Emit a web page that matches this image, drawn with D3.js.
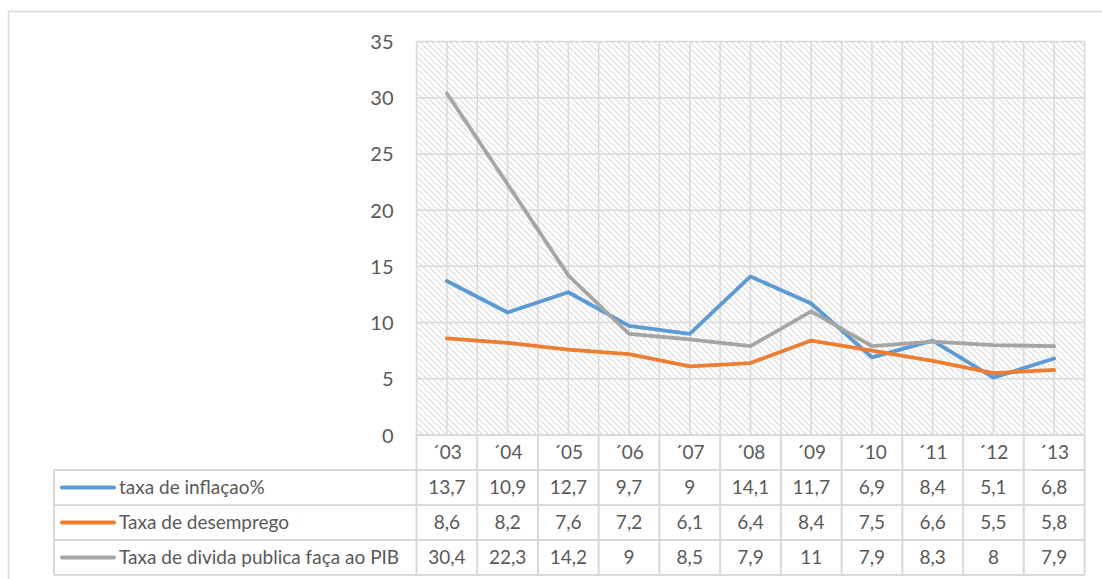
<!DOCTYPE html>
<html>
<head>
<meta charset="utf-8">
<script src="https://cdn.jsdelivr.net/npm/d3@7/dist/d3.min.js"></script>
<style>
  html, body { margin: 0; padding: 0; background: #fff; }
  svg { display: block; }
  text { font-family: Lato, "Open Sans", sans-serif; fill: #595959; }
</style>
</head>
<body>
<svg id="chart" width="1102" height="579"></svg>
<script>
// Years shown along the category axis
const years = ["´03", "´04", "´05", "´06", "´07", "´08", "´09", "´10", "´11", "´12", "´13"];

// Series values
const inflacao   = [13.7, 10.9, 12.7, 9.7, 9, 14.1, 11.7, 6.9, 8.4, 5.1, 6.8];
const desemprego = [8.6, 8.2, 7.6, 7.2, 6.1, 6.4, 8.4, 7.5, 6.6, 5.5, 5.8];
const divida     = [30.4, 22.3, 14.2, 9, 8.5, 7.9, 11, 7.9, 8.3, 8, 7.9];

const seriesNames = ["taxa de inflaçao%", "Taxa de desemprego", "Taxa de divida publica faça ao PIB"];
const seriesColors = ["#5B9BD5", "#ED7D31", "#A5A5A5"];

// Value axis ticks
const yTicks = [0, 5, 10, 15, 20, 25, 30, 35];

const series = [inflacao, desemprego, divida].map((values, i) => ({
  name: seriesNames[i], color: seriesColors[i], values
}));

const svg = d3.select("#chart");

// Layout
const plotL = 416.5, plotR = 1084.5, plotT = 41.5, plotB = 435;
const legendL = 54;
const rowH = 35;
const gridColor = "#d9d9d9";

const x = d3.scaleBand().domain(years).range([plotL, plotR]).padding(0);
const y = d3.scaleLinear().domain([0, 35]).range([plotB, plotT]);
const xc = d => x(d) + x.bandwidth() / 2;

// Chart area border
svg.append("rect")
  .attr("x", 8.5).attr("y", 11.5)
  .attr("width", 1110).attr("height", 600)
  .attr("fill", "#fff").attr("stroke", gridColor).attr("stroke-width", 1.5);

// Diagonal hatch fill of the plot area
const defs = svg.append("defs");
const pat = defs.append("pattern")
  .attr("id", "hatch").attr("patternUnits", "userSpaceOnUse")
  .attr("width", 6).attr("height", 6);
pat.append("path")
  .attr("d", "M-1,-1 L7,7 M-1,5 L1,7 M5,-1 L7,1")
  .attr("stroke", "#dcdcdc").attr("stroke-width", 1.2).attr("fill", "none");

svg.append("rect")
  .attr("x", plotL).attr("y", plotT)
  .attr("width", plotR - plotL).attr("height", plotB - plotT)
  .attr("fill", "url(#hatch)");

// Horizontal gridlines
svg.append("g").selectAll("line").data(yTicks).join("line")
  .attr("x1", plotL).attr("x2", plotR)
  .attr("y1", d => y(d)).attr("y2", d => y(d))
  .attr("stroke", gridColor).attr("stroke-width", 1.5);

// Vertical gridlines at category boundaries and centres
const vLines = [];
years.forEach(d => { vLines.push(x(d)); vLines.push(xc(d)); });
vLines.push(plotR);
svg.append("g").selectAll("line").data(vLines).join("line")
  .attr("x1", d => d).attr("x2", d => d)
  .attr("y1", plotT).attr("y2", plotB)
  .attr("stroke", gridColor).attr("stroke-width", 1.5);

// Value axis labels
const yAxis = d3.axisLeft(y).tickValues(yTicks).tickSize(0).tickPadding(0);
const gy = svg.append("g").attr("transform", `translate(${plotL - 23},0)`).call(yAxis);
gy.select(".domain").remove();
gy.selectAll("text")
  .style("font-family", "Lato, 'Open Sans', sans-serif")
  .style("font-size", "20px").attr("fill", "#595959").attr("dy", "0.35em");

// Lines
const line = d3.line().x((d, i) => xc(years[i])).y(d => y(d));
svg.append("g").selectAll("path").data(series).join("path")
  .attr("d", s => line(s.values))
  .attr("fill", "none")
  .attr("stroke", s => s.color)
  .attr("stroke-width", 3.8)
  .attr("stroke-linejoin", "round")
  .attr("stroke-linecap", "round");

// Data table
const table = svg.append("g");
const fmt = v => String(v).replace(".", ",");
const fs = "19px";

// Header row: category labels
table.selectAll("text.cat").data(years).join("text")
  .attr("class", "cat")
  .attr("x", d => xc(d)).attr("y", plotB + rowH / 2)
  .attr("dy", "0.35em").attr("text-anchor", "middle")
  .style("font-size", fs)
  .text(d => d);

// Series rows
series.forEach((s, r) => {
  const top = plotB + rowH * (r + 1);
  const cy = top + rowH / 2;
  table.append("line")
    .attr("x1", legendL + 8).attr("x2", legendL + 60)
    .attr("y1", cy).attr("y2", cy)
    .attr("stroke", s.color).attr("stroke-width", 4).attr("stroke-linecap", "round");
  table.append("text")
    .attr("x", legendL + 65).attr("y", cy).attr("dy", "0.35em")
    .style("font-size", fs)
    .text(s.name);
  table.selectAll(null).data(s.values).join("text")
    .attr("x", (d, i) => xc(years[i])).attr("y", cy)
    .attr("dy", "0.35em").attr("text-anchor", "middle")
    .style("font-size", fs)
    .text(d => fmt(d));
});

// Table grid lines
const tableBottom = plotB + rowH * 4;
const hRows = [0, 1, 2, 3, 4].map(k => plotB + rowH * k);
table.selectAll("line.h").data(hRows).join("line")
  .attr("class", "h")
  .attr("x1", (d, k) => k === 0 ? plotL : legendL).attr("x2", plotR)
  .attr("y1", d => d).attr("y2", d => d)
  .attr("stroke", gridColor).attr("stroke-width", 2);
const vCols = years.map(d => x(d)).concat([plotR]);
table.selectAll("line.v").data(vCols).join("line")
  .attr("class", "v")
  .attr("x1", d => d).attr("x2", d => d)
  .attr("y1", plotB).attr("y2", tableBottom)
  .attr("stroke", gridColor).attr("stroke-width", 2);
table.append("line")
  .attr("x1", legendL).attr("x2", legendL)
  .attr("y1", plotB + rowH).attr("y2", tableBottom)
  .attr("stroke", gridColor).attr("stroke-width", 2);
</script>
</body>
</html>
